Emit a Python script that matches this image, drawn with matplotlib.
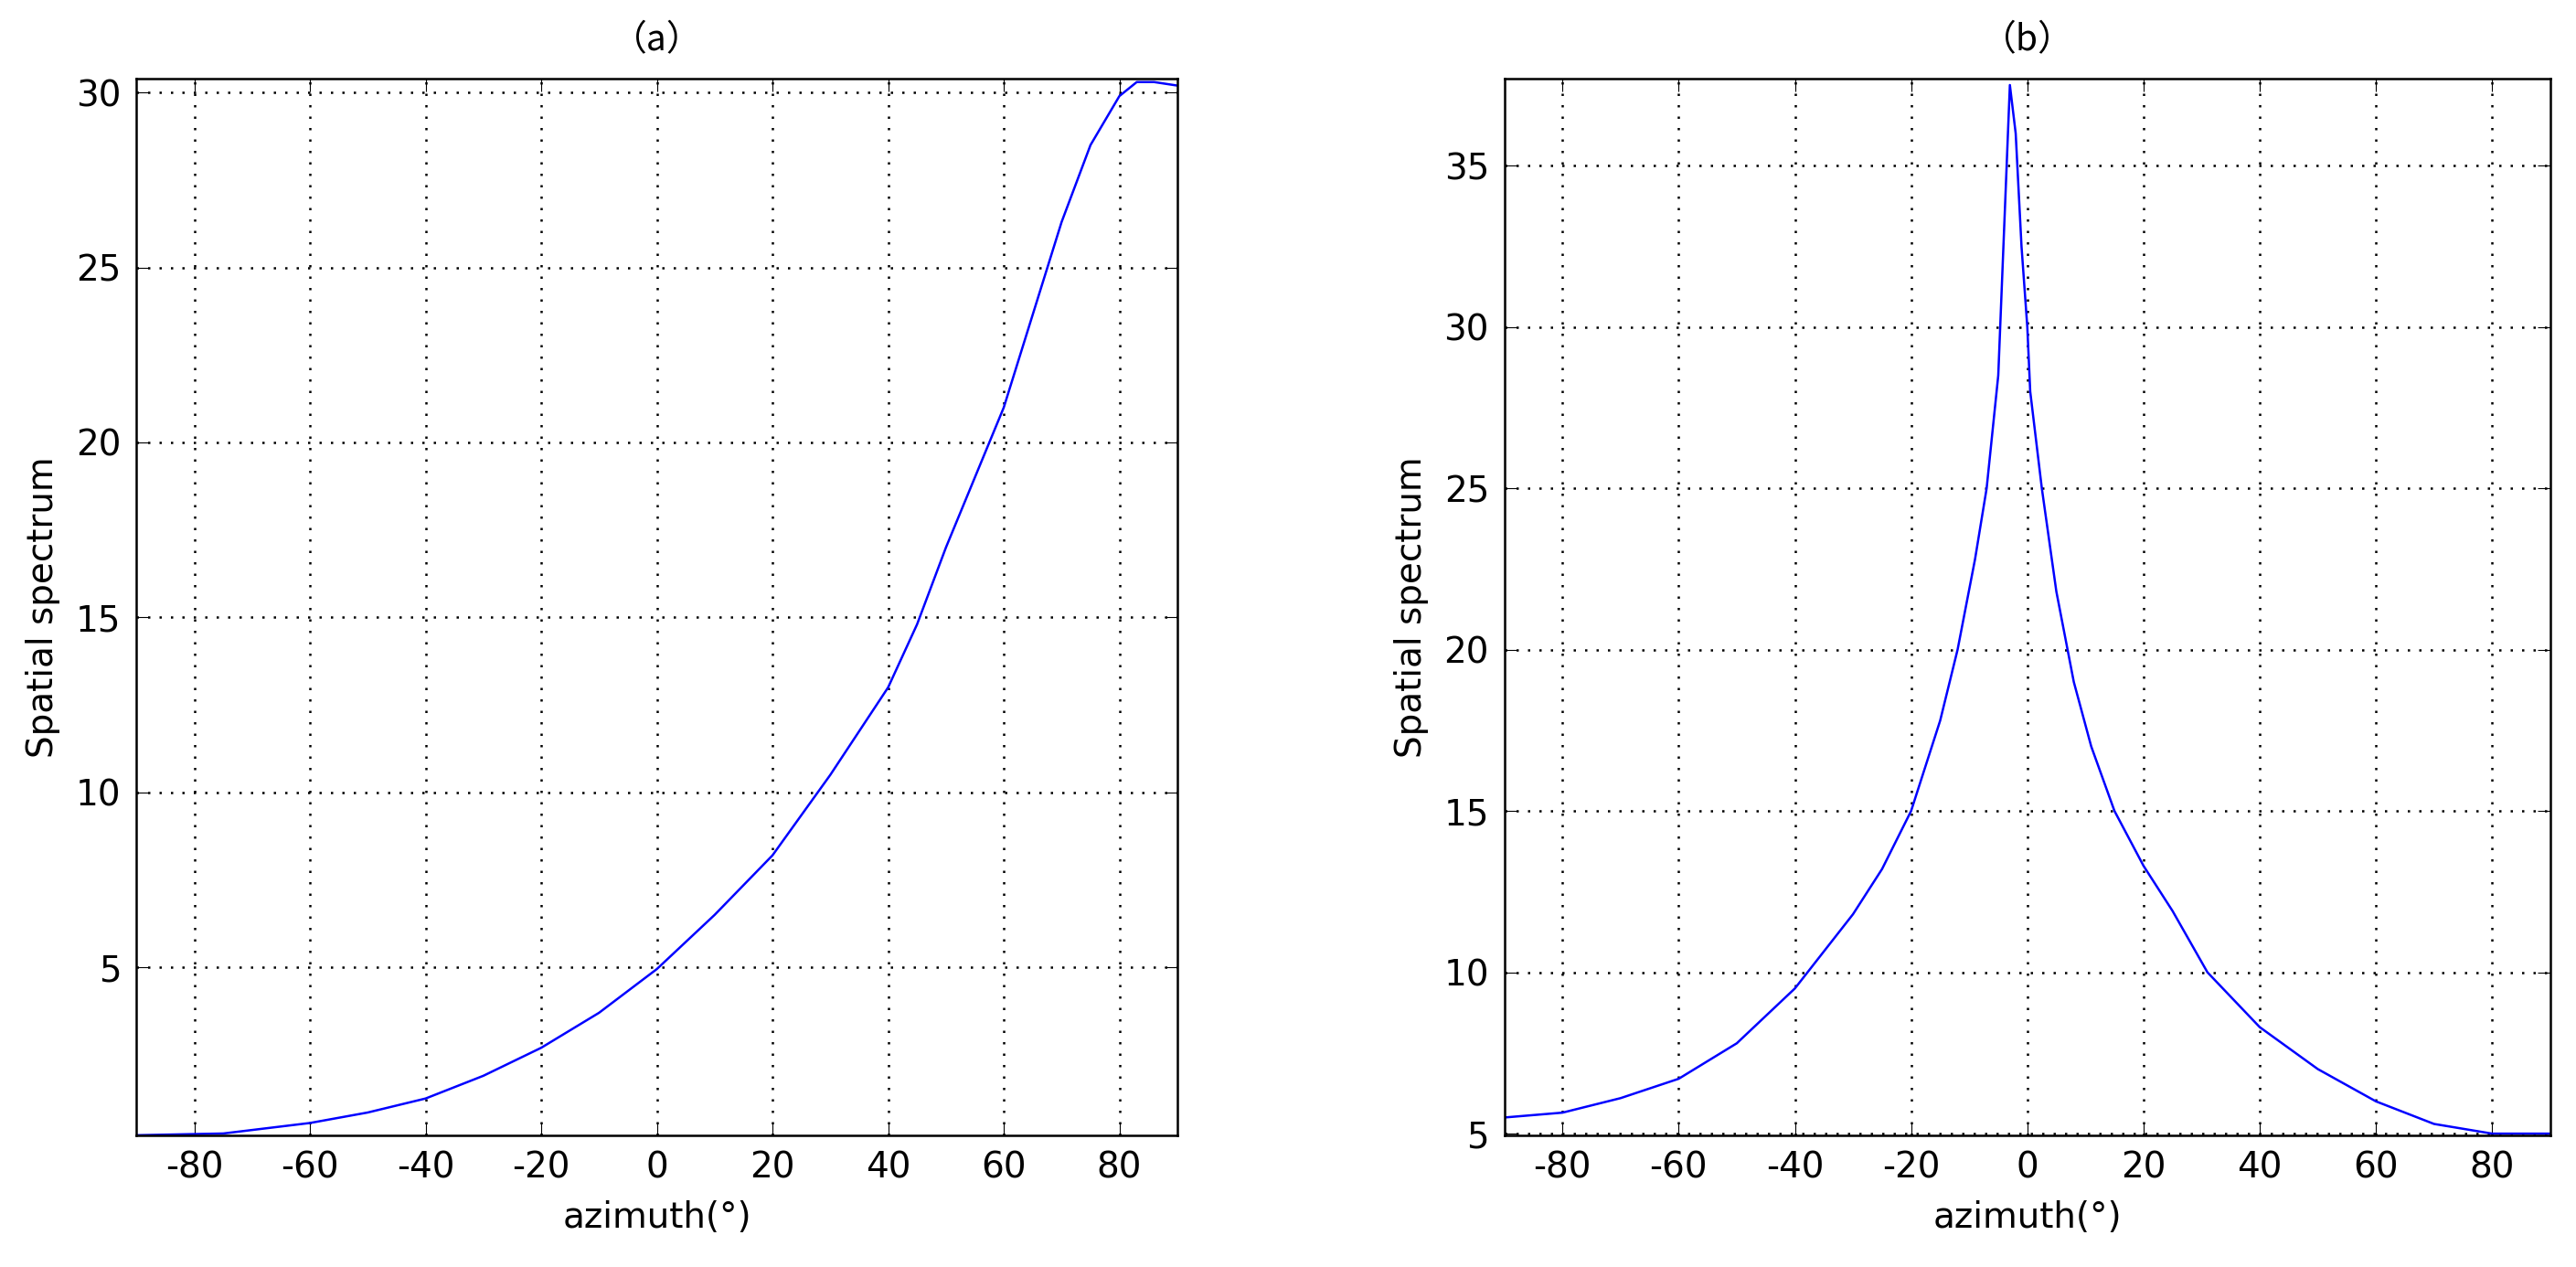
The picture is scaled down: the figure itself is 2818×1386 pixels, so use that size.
import matplotlib
matplotlib.use("Agg")
import matplotlib.pyplot as plt
import numpy as np

plt.rcParams['axes.unicode_minus'] = False

az_a = [-90, -75, -60, -50, -40, -30, -20, -10, 0, 10, 20, 30, 40, 45, 50, 60, 70, 75, 80, 83, 86, 90]
sp_a = [0.2, 0.25, 0.55, 0.85, 1.25, 1.9, 2.7, 3.7, 4.95, 6.5, 8.2, 10.5, 13.0, 14.8, 17.0, 21.0, 26.3, 28.5, 29.9, 30.3, 30.3, 30.2]

az_b = [-90, -80, -70, -60, -50, -40, -30, -25, -20, -15, -12, -9, -7, -5, -4, -3, -2, -1, 0, 0.5, 2.5, 5, 8, 11, 15, 20, 25, 31, 40, 50, 60, 70, 80, 90]
sp_b = [5.5, 5.65, 6.1, 6.7, 7.8, 9.5, 11.8, 13.2, 15.0, 17.8, 20.0, 22.8, 25.0, 28.5, 33.0, 37.5, 36.0, 32.5, 30.0, 28.0, 25.0, 21.8, 19.0, 17.0, 15.0, 13.3, 11.9, 10.0, 8.3, 7.0, 6.0, 5.3, 5.0, 5.0]

fig = plt.figure(figsize=(28.18, 13.86), dpi=100)
axa = fig.add_axes([0.053, 0.104, 0.404, 0.834])
axb = fig.add_axes([0.584, 0.104, 0.406, 0.834])

for ax, x, y, title, ylim, yt in [
    (axa, az_a, sp_a, "（a）", (0.2, 30.4), [5, 10, 15, 20, 25, 30]),
    (axb, az_b, sp_b, "（b）", (4.95, 37.7), [5, 10, 15, 20, 25, 30, 35]),
]:
    ax.plot(x, y, color="blue", lw=1.8)
    ax.set_xlim(-90, 90)
    ax.set_ylim(*ylim)
    ax.set_xticks(range(-80, 81, 20))
    ax.set_yticks(yt)
    ax.grid(True, color="black", linestyle=(0, (1, 4)), lw=1.8)
    ax.tick_params(direction="in", labelsize=28, length=10, top=True, right=True, pad=12)
    for s in ax.spines.values():
        s.set_linewidth(1.8)
    ax.set_xlabel("azimuth(°)", fontsize=28, labelpad=12)
    ax.set_ylabel("Spatial spectrum", fontsize=28, labelpad=12)
    ax.set_title(title, fontsize=28, pad=22, family=["Noto Sans CJK SC", "DejaVu Sans"])

fig.savefig("out.png")
